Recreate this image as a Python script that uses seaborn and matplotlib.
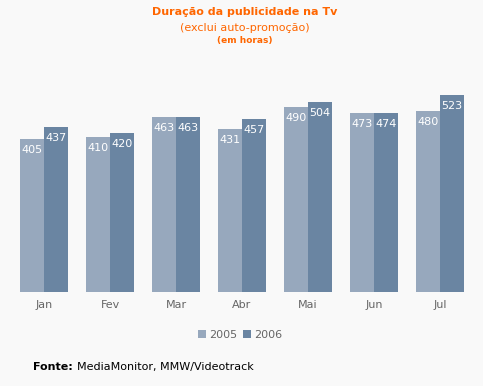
import matplotlib
matplotlib.use("Agg")
import matplotlib.pyplot as plt
import seaborn as sns
import pandas as pd

months = ["Jan", "Fev", "Mar", "Abr", "Mai", "Jun", "Jul"]
v2005 = [405, 410, 463, 431, 490, 473, 480]
v2006 = [437, 420, 463, 457, 504, 474, 523]
years = ["2005", "2006"]
colors = ["#97a8bd", "#6a85a2"]

df = pd.DataFrame({
    "mes": months * 2,
    "ano": [years[0]] * len(months) + [years[1]] * len(months),
    "horas": v2005 + v2006,
})

sns.set_theme(style="white")
plt.rcParams["font.family"] = ["DejaVu Sans"]
bg = "#f9f9f9"
fig = plt.figure(figsize=(4.83, 3.86), dpi=100, facecolor=bg)
ax = fig.add_axes([11 / 483, 94 / 386, 462 / 483, 0.58])
ax.set_facecolor(bg)

sns.barplot(data=df, x="mes", y="horas", hue="ano", palette=colors,
            width=48 / 66, saturation=1, ax=ax, legend=False, linewidth=0)
ax.set_xlim(-0.5, 6.5)
ax.set_ylim(0, 593)
for s in ax.spines.values():
    s.set_visible(False)
ax.set_yticks([])
ax.set_xlabel("")
ax.set_ylabel("")
ax.tick_params(axis="x", length=0, pad=6, labelsize=8, labelcolor="#666666")

for cont in ax.containers:
    for bar in cont:
        h = bar.get_height()
        ax.annotate(f"{int(round(h))}", (bar.get_x() + bar.get_width() / 2, h),
                    xytext=(0, -11), textcoords="offset points" if False else "offset pixels",
                    ha="center", va="center", color="white", fontsize=8)

# legend
from matplotlib.patches import Patch
handles = [Patch(facecolor=c, edgecolor="none") for c in colors]
fig.legend(handles, years, loc="center", bbox_to_anchor=(240 / 483, 1 - 335 / 386),
           ncol=2, frameon=False, fontsize=8, handlelength=0.7, handleheight=0.7,
           handletextpad=0.3, columnspacing=0.5, labelcolor="#666666")

orange = "#ff6600"
fig.text(245 / 483, 1 - 12 / 386, "Duração da publicidade na Tv", ha="center", va="center",
         color=orange, fontsize=8, fontweight="bold")
fig.text(245 / 483, 1 - 28 / 386, "(exclui auto-promoção)", ha="center", va="center",
         color=orange, fontsize=8)
fig.text(245 / 483, 1 - 41 / 386, "(em horas)", ha="center", va="center",
         color=orange, fontsize=6.5, fontweight="bold")

fig.text(33 / 483, 1 - 367 / 386, "Fonte:", ha="left", va="center", color="black",
         fontsize=8, fontweight="bold")
fig.text(77 / 483, 1 - 367 / 386, "MediaMonitor, MMW/Videotrack", ha="left", va="center",
         color="black", fontsize=8)

fig.savefig("out.png", dpi=100, facecolor=bg)
